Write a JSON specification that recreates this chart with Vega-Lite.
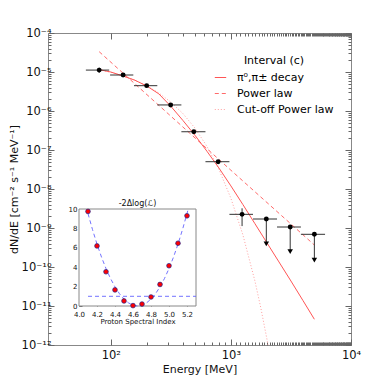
{
  "$schema": "https://vega.github.io/schema/vega-lite/v6.json",
  "width": 303,
  "height": 312,
  "autosize": {"type": "none"},
  "padding": {"left": 48, "top": 33, "right": 28, "bottom": 40},
  "config": {
    "font": "DejaVu Sans",
    "view": {"stroke": "#888", "strokeWidth": 1},
    "axis": {"grid": false, "domain": false, "tickColor": "#666", "labelColor": "#111", "titleColor": "#111", "titleFontWeight": "normal", "labelFlush": false, "labelOverlap": false, "labelBound": false}
  },
  "datasets": {
    "decay": [
      {"E": 80, "F": 1.148e-5},
      {"E": 100, "F": 1.0e-5},
      {"E": 125.9, "F": 7.94e-6},
      {"E": 158.5, "F": 6.17e-6},
      {"E": 199.5, "F": 4.37e-6},
      {"E": 251.2, "F": 2.75e-6},
      {"E": 316.2, "F": 1.32e-6},
      {"E": 398.1, "F": 5.75e-7},
      {"E": 501.2, "F": 2.40e-7},
      {"E": 631, "F": 9.33e-8},
      {"E": 794.3, "F": 3.47e-8},
      {"E": 1000, "F": 1.20e-8},
      {"E": 1259, "F": 3.98e-9},
      {"E": 1585, "F": 1.29e-9},
      {"E": 1995, "F": 4.17e-10},
      {"E": 2512, "F": 1.35e-10},
      {"E": 3162, "F": 4.37e-11},
      {"E": 3981, "F": 1.38e-11},
      {"E": 4955, "F": 4.57e-12}
    ],
    "plaw": [
      {"E": 80, "F": 3.32e-5},
      {"E": 300, "F": 8.53e-7},
      {"E": 1000, "F": 3.03e-8},
      {"E": 4955, "F": 3.66e-10}
    ],
    "cutoff": [
      {"E": 80, "F": 1.148e-5},
      {"E": 100, "F": 9.82e-6},
      {"E": 125.9, "F": 7.98e-6},
      {"E": 158.5, "F": 6.14e-6},
      {"E": 199.5, "F": 4.41e-6},
      {"E": 251.2, "F": 2.89e-6},
      {"E": 316.2, "F": 1.69e-6},
      {"E": 398.1, "F": 8.63e-7},
      {"E": 501.2, "F": 3.67e-7},
      {"E": 631, "F": 1.25e-7},
      {"E": 794.3, "F": 3.21e-8},
      {"E": 1000, "F": 5.78e-9},
      {"E": 1259, "F": 6.65e-10},
      {"E": 1585, "F": 4.37e-11},
      {"E": 1778, "F": 8.7e-12},
      {"E": 1995, "F": 1.42e-12},
      {"E": 2089, "F": 6.5e-13}
    ],
    "legendrows": [
      {"series": "π⁰,π± decay", "E": 50, "F": 1e-20},
      {"series": "Power law", "E": 50, "F": 1e-20},
      {"series": "Cut-off Power law", "E": 50, "F": 1e-20}
    ],
    "pts": [
      {"E": 80, "F": 1.12e-5, "xlo": 62, "xhi": 97, "ylo": 0.95e-5, "yhi": 1.3e-5},
      {"E": 126.6, "F": 8.37e-6, "xlo": 98.7, "xhi": 154},
      {"E": 199, "F": 4.46e-6, "xlo": 156, "xhi": 244},
      {"E": 315, "F": 1.43e-6, "xlo": 244, "xhi": 387},
      {"E": 491, "F": 2.94e-7, "xlo": 387, "xhi": 614},
      {"E": 783, "F": 5.01e-8, "xlo": 614, "xhi": 972},
      {"E": 1239, "F": 2.24e-9, "xlo": 972, "xhi": 1528, "ylo": 1.12e-9, "yhi": 3.2e-9},
      {"E": 1972, "F": 1.70e-9, "xlo": 1528, "xhi": 2421, "ful": 3.89e-10},
      {"E": 3117, "F": 1.06e-9, "xlo": 2421, "xhi": 3828, "ful": 2.47e-10},
      {"E": 4955, "F": 6.89e-10, "xlo": 3828, "xhi": 6081, "ful": 1.51e-10}
    ],
    "scan": [
      {"idx": 4.1, "dl": 9.75},
      {"idx": 4.2, "dl": 6.19},
      {"idx": 4.3, "dl": 3.53},
      {"idx": 4.4, "dl": 1.66},
      {"idx": 4.5, "dl": 0.52},
      {"idx": 4.6, "dl": 0.04},
      {"idx": 4.7, "dl": 0.2},
      {"idx": 4.8, "dl": 0.93},
      {"idx": 4.9, "dl": 2.22},
      {"idx": 5.0, "dl": 4.15},
      {"idx": 5.1, "dl": 6.47},
      {"idx": 5.2, "dl": 9.3}
    ],
    "parab": [
      {"idx": 4.10, "dl": 9.53},
      {"idx": 4.15, "dl": 7.88},
      {"idx": 4.20, "dl": 6.38},
      {"idx": 4.25, "dl": 5.04},
      {"idx": 4.30, "dl": 3.86},
      {"idx": 4.35, "dl": 2.84},
      {"idx": 4.40, "dl": 1.97},
      {"idx": 4.45, "dl": 1.26},
      {"idx": 4.50, "dl": 0.71},
      {"idx": 4.55, "dl": 0.32},
      {"idx": 4.60, "dl": 0.08},
      {"idx": 4.65, "dl": 0.0},
      {"idx": 4.70, "dl": 0.08},
      {"idx": 4.75, "dl": 0.32},
      {"idx": 4.80, "dl": 0.71},
      {"idx": 4.85, "dl": 1.26},
      {"idx": 4.90, "dl": 1.97},
      {"idx": 4.95, "dl": 2.84},
      {"idx": 5.00, "dl": 3.86},
      {"idx": 5.05, "dl": 5.04},
      {"idx": 5.10, "dl": 6.38},
      {"idx": 5.15, "dl": 7.88},
      {"idx": 5.20, "dl": 9.53},
      {"idx": 5.21, "dl": 9.88}
    ],
    "box": [{"a": 4.0, "b": 5.3, "c": 0, "d": 10}]
  },
  "layer": [
    {
      "data": {"name": "pts"},
      "mark": {"type": "circle", "opacity": 0},
      "encoding": {
        "x": {"field": "E", "type": "quantitative", "scale": {"type": "log", "domain": [30, 10000]},
          "axis": {"orient": "bottom", "title": "Energy [MeV]", "tickCount": 100, "labelFontSize": 11.5, "titleFontSize": 11, "labelPadding": 10, "titlePadding": 0,
            "tickSize": {"condition": {"test": "abs(log(datum.value)/LN10 - round(log(datum.value)/LN10)) < 0.001", "value": -6}, "value": -3},
            "labelExpr": "abs(log(datum.value)/LN10 - round(log(datum.value)/LN10)) < 0.001 ? (round(log(datum.value)/LN10) == 2 ? '10²' : round(log(datum.value)/LN10) == 3 ? '10³' : '10⁴') : ''"}},
        "y": {"field": "F", "type": "quantitative", "scale": {"type": "log", "domain": [1e-12, 1e-4]},
          "axis": {"orient": "left", "title": "dN/dE [cm⁻² s⁻¹ MeV⁻¹]", "tickCount": 100, "labelFontSize": 11.5, "titleFontSize": 11, "labelPadding": 3, "titlePadding": 2,
            "tickSize": {"condition": {"test": "abs(log(datum.value)/LN10 - round(log(datum.value)/LN10)) < 0.001", "value": -6}, "value": -3},
            "labelExpr": "abs(log(datum.value)/LN10 - round(log(datum.value)/LN10)) < 0.001 ? ['10⁻¹²','10⁻¹¹','10⁻¹⁰','10⁻⁹','10⁻⁸','10⁻⁷','10⁻⁶','10⁻⁵','10⁻⁴'][round(log(datum.value)/LN10) + 12] : ''"}}
      }
    },
    {
      "data": {"name": "pts"},
      "mark": {"type": "circle", "opacity": 0},
      "encoding": {
        "x": {"field": "E", "type": "quantitative", "scale": {"type": "log", "domain": [30, 10000]},
          "axis": {"orient": "top", "labels": false, "title": null, "tickCount": 100,
            "tickSize": {"condition": {"test": "abs(log(datum.value)/LN10 - round(log(datum.value)/LN10)) < 0.001", "value": -6}, "value": -3}}},
        "y": {"field": "F", "type": "quantitative", "scale": {"type": "log", "domain": [1e-12, 1e-4]},
          "axis": {"orient": "right", "labels": false, "title": null, "tickCount": 100,
            "tickSize": {"condition": {"test": "abs(log(datum.value)/LN10 - round(log(datum.value)/LN10)) < 0.001", "value": -6}, "value": -3}}}
      }
    },
    {
      "data": {"name": "cutoff"},
      "mark": {"type": "line", "strokeWidth": 1, "clip": true, "color": "#ffa0a0", "strokeDash": [1, 2]},
      "encoding": {
        "x": {"field": "E", "type": "quantitative", "scale": {"type": "log", "domain": [30, 10000]}, "axis": null},
        "y": {"field": "F", "type": "quantitative", "scale": {"type": "log", "domain": [1e-12, 1e-4]}, "axis": null}
      }
    },
    {
      "data": {"name": "plaw"},
      "mark": {"type": "line", "strokeWidth": 1, "clip": true, "color": "#ff6a6a", "strokeDash": [4, 3]},
      "encoding": {
        "x": {"field": "E", "type": "quantitative", "scale": {"type": "log", "domain": [30, 10000]}, "axis": null},
        "y": {"field": "F", "type": "quantitative", "scale": {"type": "log", "domain": [1e-12, 1e-4]}, "axis": null}
      }
    },
    {
      "data": {"name": "decay"},
      "mark": {"type": "line", "strokeWidth": 1, "clip": true, "color": "#ff5555"},
      "encoding": {
        "x": {"field": "E", "type": "quantitative", "scale": {"type": "log", "domain": [30, 10000]}, "axis": null},
        "y": {"field": "F", "type": "quantitative", "scale": {"type": "log", "domain": [1e-12, 1e-4]}, "axis": null}
      }
    },
    {
      "data": {"name": "legendrows"},
      "mark": {"type": "line", "strokeWidth": 1, "clip": true},
      "encoding": {
        "x": {"field": "E", "type": "quantitative", "scale": {"type": "log", "domain": [30, 10000]}, "axis": null},
        "y": {"field": "F", "type": "quantitative", "scale": {"type": "log", "domain": [1e-12, 1e-4]}, "axis": null},
        "color": {"field": "series", "type": "nominal", "title": "Interval (c)",
          "scale": {"domain": ["π⁰,π± decay", "Power law", "Cut-off Power law"], "range": ["#ff5555", "#ff6a6a", "#ffa0a0"]},
          "legend": {"orient": "none", "legendX": 166, "legendY": 22, "symbolType": "stroke", "symbolSize": 130, "symbolStrokeWidth": 1, "symbolOpacity": 1, "labelFontSize": 11, "titleFontSize": 11, "titleFontWeight": "normal", "rowPadding": 4, "titlePadding": 5, "labelOffset": 10, "titleAnchor": "middle", "padding": 0}},
        "strokeDash": {"field": "series", "type": "nominal", "title": "Interval (c)",
          "scale": {"domain": ["π⁰,π± decay", "Power law", "Cut-off Power law"], "range": [[20, 0], [4, 3], [1, 2]]}}
      }
    },
    {
      "data": {"name": "pts"},
      "mark": {"type": "rule", "color": "#333", "strokeWidth": 1},
      "encoding": {
        "x": {"field": "xlo", "type": "quantitative", "scale": {"type": "log", "domain": [30, 10000]}, "axis": null},
        "x2": {"field": "xhi"},
        "y": {"field": "F", "type": "quantitative", "scale": {"type": "log", "domain": [1e-12, 1e-4]}, "axis": null}
      }
    },
    {
      "data": {"name": "pts"},
      "transform": [{"filter": "isValid(datum.ylo)"}],
      "mark": {"type": "rule", "color": "#333", "strokeWidth": 1},
      "encoding": {
        "x": {"field": "E", "type": "quantitative", "scale": {"type": "log", "domain": [30, 10000]}, "axis": null},
        "y": {"field": "ylo", "type": "quantitative", "scale": {"type": "log", "domain": [1e-12, 1e-4]}, "axis": null},
        "y2": {"field": "yhi"}
      }
    },
    {
      "data": {"name": "pts"},
      "transform": [{"filter": "isValid(datum.ful)"}],
      "mark": {"type": "rule", "color": "#333", "strokeWidth": 1},
      "encoding": {
        "x": {"field": "E", "type": "quantitative", "scale": {"type": "log", "domain": [30, 10000]}, "axis": null},
        "y": {"field": "F", "type": "quantitative", "scale": {"type": "log", "domain": [1e-12, 1e-4]}, "axis": null},
        "y2": {"field": "ful"}
      }
    },
    {
      "data": {"name": "pts"},
      "transform": [{"filter": "isValid(datum.ful)"}],
      "mark": {"type": "point", "shape": "triangle-down", "filled": true, "color": "#000", "size": 30, "opacity": 1},
      "encoding": {
        "x": {"field": "E", "type": "quantitative", "scale": {"type": "log", "domain": [30, 10000]}, "axis": null},
        "y": {"field": "ful", "type": "quantitative", "scale": {"type": "log", "domain": [1e-12, 1e-4]}, "axis": null}
      }
    },
    {
      "data": {"name": "pts"},
      "mark": {"type": "circle", "color": "#000", "size": 24, "opacity": 1},
      "encoding": {
        "x": {"field": "E", "type": "quantitative", "scale": {"type": "log", "domain": [30, 10000]}, "axis": null},
        "y": {"field": "F", "type": "quantitative", "scale": {"type": "log", "domain": [1e-12, 1e-4]}, "axis": null}
      }
    },
    {
      "data": {"name": "box"},
      "mark": {"type": "rect", "fill": "white", "stroke": "#888", "strokeWidth": 1},
      "encoding": {
        "x": {"field": "a", "type": "quantitative", "scale": {"domain": [4.0, 5.3], "range": [31, 148], "nice": false, "zero": false}, "axis": null},
        "x2": {"field": "b"},
        "y": {"field": "c", "type": "quantitative", "scale": {"domain": [0, 10], "range": [273, 176], "nice": false, "zero": false}, "axis": null},
        "y2": {"field": "d"}
      }
    },
    {
      "data": {"name": "box"},
      "mark": {"type": "circle", "opacity": 0},
      "encoding": {
        "x": {"field": "a", "type": "quantitative", "scale": {"domain": [4.0, 5.3], "range": [31, 148], "nice": false, "zero": false},
          "axis": {"orient": "bottom", "offset": -39, "values": [4.0, 4.2, 4.4, 4.6, 4.8, 5.0, 5.2], "format": ".1f", "labelFontSize": 7, "tickSize": -3, "labelPadding": 7, "title": "Proton Spectral Index", "titleFontSize": 7, "titlePadding": 0}},
        "y": {"field": "c", "type": "quantitative", "scale": {"domain": [0, 10], "range": [273, 176], "nice": false, "zero": false},
          "axis": {"orient": "left", "offset": -31, "values": [0, 2, 4, 6, 8, 10], "labelFontSize": 7, "tickSize": -3, "labelPadding": 5, "title": null}}
      }
    },
    {
      "data": {"name": "parab"},
      "mark": {"type": "line", "color": "#5a5aff", "strokeWidth": 1, "strokeDash": [4, 3], "opacity": 0.85},
      "encoding": {
        "x": {"field": "idx", "type": "quantitative", "scale": {"domain": [4.0, 5.3], "range": [31, 148], "nice": false, "zero": false}, "axis": null},
        "y": {"field": "dl", "type": "quantitative", "scale": {"domain": [0, 10], "range": [273, 176], "nice": false, "zero": false}, "axis": null}
      }
    },
    {
      "data": {"values": [{"a": 4.1, "b": 5.3, "c": 1}]},
      "mark": {"type": "rule", "color": "#5a5aff", "strokeWidth": 1, "strokeDash": [4, 3], "opacity": 0.85},
      "encoding": {
        "x": {"field": "a", "type": "quantitative", "scale": {"domain": [4.0, 5.3], "range": [31, 148], "nice": false, "zero": false}, "axis": null},
        "x2": {"field": "b"},
        "y": {"field": "c", "type": "quantitative", "scale": {"domain": [0, 10], "range": [273, 176], "nice": false, "zero": false}, "axis": null}
      }
    },
    {
      "data": {"name": "scan"},
      "mark": {"type": "circle", "color": "#ff0000", "stroke": "#22228a", "strokeWidth": 0.7, "size": 22, "opacity": 1},
      "encoding": {
        "x": {"field": "idx", "type": "quantitative", "scale": {"domain": [4.0, 5.3], "range": [31, 148], "nice": false, "zero": false}, "axis": null},
        "y": {"field": "dl", "type": "quantitative", "scale": {"domain": [0, 10], "range": [273, 176], "nice": false, "zero": false}, "axis": null}
      }
    },
    {
      "data": {"values": [{"a": 4.65, "c": 10, "t": "-2Δlog(ℒ)"}]},
      "mark": {"type": "text", "fontSize": 8, "baseline": "bottom", "dy": -1, "color": "#111"},
      "encoding": {
        "x": {"field": "a", "type": "quantitative", "scale": {"domain": [4.0, 5.3], "range": [31, 148], "nice": false, "zero": false}, "axis": null},
        "y": {"field": "c", "type": "quantitative", "scale": {"domain": [0, 10], "range": [273, 176], "nice": false, "zero": false}, "axis": null},
        "text": {"field": "t"}
      }
    }
  ],
  "resolve": {"scale": {"x": "independent", "y": "independent"}, "axis": {"x": "independent", "y": "independent"}}
}
